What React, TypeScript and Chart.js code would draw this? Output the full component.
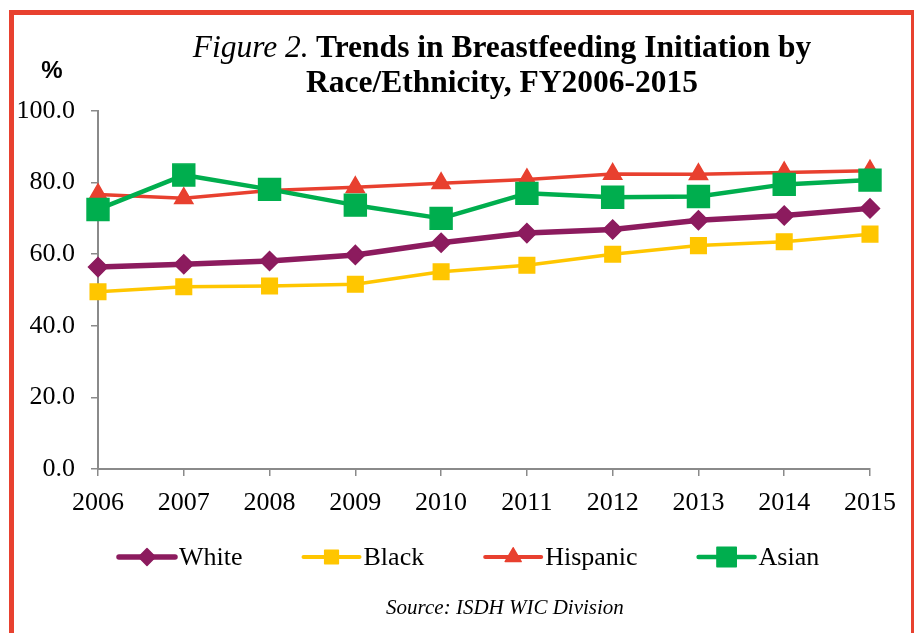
import React, { useEffect, useRef } from 'react';
import { Chart, registerables } from 'chart.js';

Chart.register(...registerables);

const years = ['2006', '2007', '2008', '2009', '2010', '2011', '2012', '2013', '2014', '2015'];
const white = [56.4, 57.2, 58.1, 59.8, 63.2, 65.9, 66.9, 69.5, 70.8, 72.8];
const black = [49.5, 50.9, 51.1, 51.6, 55.1, 56.9, 60.0, 62.4, 63.5, 65.6];
const hispanic = [76.7, 75.6, 77.8, 78.7, 79.8, 80.9, 82.4, 82.3, 82.8, 83.3];
const asian = [72.5, 82.1, 78.1, 73.7, 70.0, 77.0, 75.9, 76.1, 79.5, 80.7];
const yMin = 0;
const yMax = 100;
const yStep = 20;

const SERIF = '"Liberation Serif", "Times New Roman", serif';

function drawMarker(ctx: CanvasRenderingContext2D, style: string, x: number, y: number, r: number) {
  ctx.beginPath();
  if (style === 'rectRot') {
    ctx.moveTo(x - r, y);
    ctx.lineTo(x, y - r);
    ctx.lineTo(x + r, y);
    ctx.lineTo(x, y + r);
  } else if (style === 'rect') {
    const s = r * Math.SQRT1_2;
    ctx.rect(x - s, y - s, 2 * s, 2 * s);
  } else if (style === 'triangle') {
    const a = (2 * Math.PI) / 3;
    ctx.moveTo(x, y - r);
    ctx.lineTo(x + Math.sin(a) * r, y - Math.cos(a) * r);
    ctx.lineTo(x + Math.sin(2 * a) * r, y - Math.cos(2 * a) * r);
  }
  ctx.closePath();
  ctx.fill();
  ctx.stroke();
}

const legendPlugin = {
  id: 'lineLegend',
  afterDraw(chart: any) {
    const ctx: CanvasRenderingContext2D = chart.ctx;
    const y = 557;
    let x = 119;
    const lineLen = 56;
    ctx.save();
    ctx.font = `26px ${SERIF}`;
    ctx.textBaseline = 'middle';
    ctx.textAlign = 'left';
    chart.data.datasets.forEach((ds: any) => {
      ctx.strokeStyle = ds.borderColor;
      ctx.lineWidth = Math.max(ds.borderWidth, 4);
      ctx.lineCap = 'round';
      ctx.lineJoin = 'round';
      ctx.beginPath();
      ctx.moveTo(x, y);
      ctx.lineTo(x + lineLen, y);
      ctx.stroke();
      ctx.fillStyle = ds.pointBackgroundColor;
      ctx.strokeStyle = ds.pointBorderColor;
      ctx.lineWidth = ds.pointBorderWidth;
      drawMarker(ctx, ds.pointStyle, x + lineLen / 2, y, ds.pointRadius * 0.88);
      ctx.fillStyle = '#000';
      const tx = x + lineLen + 4;
      ctx.fillText(ds.label, tx, y + 1);
      x = tx + ctx.measureText(ds.label).width + 61;
    });
    ctx.restore();
  },
};

export default function App() {
  const ref = useRef<HTMLCanvasElement | null>(null);

  useEffect(() => {
    if (!ref.current) return;
    const axisColor = '#8a8a8a';
    const chart = new Chart(ref.current, {
      type: 'line',
      data: {
        labels: years,
        datasets: [
          {
            label: 'White',
            data: white,
            borderColor: '#8C1B5E',
            backgroundColor: '#8C1B5E',
            borderWidth: 5.5,
            pointStyle: 'rectRot',
            pointRadius: 9.5,
            pointBackgroundColor: '#8C1B5E',
            pointBorderColor: '#8C1B5E',
            pointBorderWidth: 1.5,
            order: 4,
          },
          {
            label: 'Black',
            data: black,
            borderColor: '#FFC600',
            backgroundColor: '#FFC600',
            borderWidth: 3.5,
            pointStyle: 'rect',
            pointRadius: 11,
            pointBackgroundColor: '#FFC600',
            pointBorderColor: '#FFC600',
            pointBorderWidth: 1.5,
            order: 3,
          },
          {
            label: 'Hispanic',
            data: hispanic,
            borderColor: '#E8402F',
            backgroundColor: '#E8402F',
            borderWidth: 3.5,
            pointStyle: 'triangle',
            pointRadius: 10.5,
            pointBackgroundColor: '#E8402F',
            pointBorderColor: '#E8402F',
            pointBorderWidth: 1.5,
            order: 2,
          },
          {
            label: 'Asian',
            data: asian,
            borderColor: '#00AE4E',
            backgroundColor: '#00AE4E',
            borderWidth: 4.5,
            pointStyle: 'rect',
            pointRadius: 15.5,
            pointBackgroundColor: '#00AE4E',
            pointBorderColor: '#00AE4E',
            pointBorderWidth: 1.5,
            order: 1,
          },
        ],
      },
      options: {
        animation: false,
        responsive: false,
        maintainAspectRatio: false,
        layout: { padding: { left: 0, top: 111, right: 44, bottom: 104 } },
        elements: {
          line: { tension: 0, borderCapStyle: 'round', borderJoinStyle: 'round' },
          point: { hoverRadius: 0 },
        },
        plugins: {
          legend: { display: false },
          title: { display: false },
          tooltip: { enabled: false },
        },
        scales: {
          x: {
            type: 'category',
            offset: false,
            grid: {
              display: true,
              drawOnChartArea: false,
              drawTicks: true,
              tickLength: 7,
              color: axisColor,
              lineWidth: 1.5,
              offset: false,
            },
            border: { display: true, color: axisColor, width: 2 },
            ticks: {
              color: '#000',
              font: { family: SERIF, size: 26 },
              padding: 12,
              maxRotation: 0,
              autoSkip: false,
            },
            afterFit: (s: any) => {
              s.height = 60;
            },
          },
          y: {
            min: yMin,
            max: yMax,
            grid: {
              display: true,
              drawOnChartArea: false,
              drawTicks: true,
              tickLength: 7,
              color: axisColor,
              lineWidth: 1.5,
            },
            border: { display: true, color: axisColor, width: 2 },
            ticks: {
              stepSize: yStep,
              color: '#000',
              font: { family: SERIF, size: 26 },
              padding: 16,
              callback: (v: any) => Number(v).toFixed(1),
            },
            afterFit: (s: any) => {
              s.width = 98;
            },
          },
        },
        datasets: { line: { clip: false } } as any,
      },
      plugins: [legendPlugin],
    });
    return () => chart.destroy();
  }, []);

  return (
    <div style={{ position: 'absolute', left: 0, top: 0, width: 914, height: 633, overflow: 'hidden', background: '#fff' }}>
      <canvas ref={ref} width={914} height={633} style={{ position: 'absolute', left: 0, top: 0, width: 914, height: 633 }} />
      <div
        style={{
          position: 'absolute',
          left: 9,
          top: 10,
          width: 907,
          height: 640,
          border: '5px solid #E8412F',
          boxSizing: 'border-box',
          pointerEvents: 'none',
        }}
      />
      <div
        style={{
          position: 'absolute',
          left: 102,
          top: 29,
          width: 800,
          textAlign: 'center',
          fontFamily: SERIF,
          fontSize: 31.5,
          lineHeight: '35px',
          fontWeight: 'bold',
          color: '#000',
        }}
      >
        <span style={{ fontStyle: 'italic', fontWeight: 'normal' }}>Figure 2.</span> Trends in Breastfeeding Initiation by
        <br />
        Race/Ethnicity, FY2006-2015
      </div>
      <div
        style={{
          position: 'absolute',
          left: 32,
          top: 56,
          width: 40,
          textAlign: 'center',
          fontFamily: '"Liberation Sans", Arial, sans-serif',
          fontSize: 24,
          lineHeight: '28px',
          fontWeight: 'bold',
          color: '#000',
        }}
      >
        %
      </div>
      <div
        style={{
          position: 'absolute',
          left: 305,
          top: 594,
          width: 400,
          textAlign: 'center',
          fontFamily: SERIF,
          fontSize: 21,
          lineHeight: '26px',
          fontStyle: 'italic',
          color: '#000',
        }}
      >
        Source: ISDH WIC Division
      </div>
    </div>
  );
}
